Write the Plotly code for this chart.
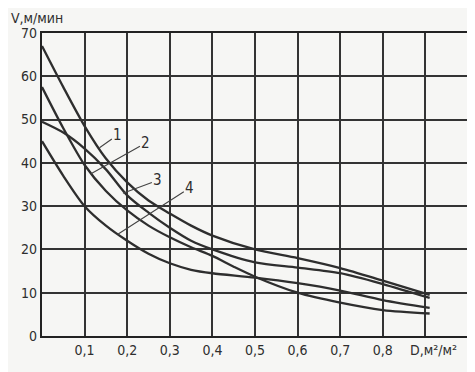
import plotly.graph_objects as go

# Data (D, m2/m2 vs V, m/min)
x1 = [0, 0.05, 0.1, 0.15, 0.2, 0.25, 0.3, 0.35, 0.4, 0.5, 0.6, 0.7, 0.8, 0.91]
v1 = [67, 57.5, 48.5, 41, 35.5, 31.3, 28.3, 25.5, 23.2, 20, 18, 15.7, 12.8, 9.5]

x2 = [0, 0.05, 0.1, 0.15, 0.2, 0.25, 0.3, 0.35, 0.4, 0.45, 0.5, 0.6, 0.7, 0.8, 0.91]
v2 = [57.5, 48, 39.5, 33.5, 29, 25.5, 22.8, 20.5, 18.5, 16, 13.7, 10, 7.7, 6, 5.2]

x3 = [0, 0.05, 0.1, 0.15, 0.2, 0.25, 0.3, 0.35, 0.4, 0.5, 0.6, 0.7, 0.8, 0.91]
v3 = [49.5, 47, 43.3, 38.5, 32.5, 28.5, 25, 22, 20, 17, 15.8, 14.5, 12, 8.8]

x4 = [0, 0.05, 0.1, 0.15, 0.2, 0.25, 0.3, 0.35, 0.4, 0.5, 0.6, 0.7, 0.8, 0.91]
v4 = [45, 37, 30, 25.5, 22, 19, 16.8, 15.3, 14.5, 13.5, 12.2, 10.5, 8.3, 6.5]

curve_labels = ["1", "2", "3", "4"]
label_points_x = [0.135, 0.115, 0.19, 0.178]
label_points_y = [43.5, 37.5, 33, 23.5]
label_text_x = [0.178, 0.244, 0.272, 0.347]
label_text_y = [46.5, 44.6, 36, 34.2]

x_tickvals = [0, 0.1, 0.2, 0.3, 0.4, 0.5, 0.6, 0.7, 0.8, 0.9, 1.0]
x_ticktext = ["", "0,1", "0,2", "0,3", "0,4", "0,5", "0,6", "0,7", "0,8", "", ""]
y_tickvals = [0, 10, 20, 30, 40, 50, 60, 70]

FONT = "DejaVu Sans Condensed, Liberation Sans Narrow, Arial Narrow, DejaVu Sans, sans-serif"
INK = "#2e2e2e"

fig = go.Figure()
for xs, vs in [(x1, v1), (x2, v2), (x3, v3), (x4, v4)]:
    fig.add_trace(go.Scatter(x=xs, y=vs, mode="lines",
                             line=dict(color=INK, width=2.3, shape="spline", smoothing=0.8),
                             showlegend=False, hoverinfo="skip"))

for lab, px, py, tx, ty in zip(curve_labels, label_points_x, label_points_y, label_text_x, label_text_y):
    fig.add_annotation(x=px, y=py, ax=tx, ay=ty, xref="x", yref="y", axref="x", ayref="y",
                       text=lab, showarrow=True, arrowhead=0, arrowwidth=1.1, arrowcolor="#444",
                       font=dict(family=FONT, size=15, color=INK), standoff=0)

fig.add_annotation(x=0.86, y=0, xref="x", yref="paper", xanchor="left", yanchor="top", yshift=-4,
                   text="D,м²/м²", showarrow=False, font=dict(family=FONT, size=14, color=INK))
fig.add_annotation(x=-0.077, y=1.048, xref="paper", yref="paper", xanchor="left", yanchor="middle",
                   text="V,м/мин", showarrow=False, font=dict(family=FONT, size=14, color=INK))

# the page body adds an 8px offset, so the figure is sized to fit the window
fig.update_layout(
    width=467, height=364,
    margin=dict(l=34, r=5, t=25, b=36),
    paper_bgcolor="#f6f6f4", plot_bgcolor="#f6f6f4",
    font=dict(family=FONT, size=14, color=INK),
)
fig.update_xaxes(range=[0, 1.0], tickvals=x_tickvals, ticktext=x_ticktext,
                 showgrid=True, gridcolor="#333", gridwidth=1.6,
                 showline=True, linecolor="#222", linewidth=2.2, mirror=True,
                 zeroline=False, ticks="", tickfont=dict(size=14))
fig.update_yaxes(range=[0, 70], tickvals=y_tickvals,
                 showgrid=True, gridcolor="#333", gridwidth=1.6,
                 showline=True, linecolor="#222", linewidth=2.2, mirror=True,
                 zeroline=False, ticks="", tickfont=dict(size=14))

fig.write_html("out.html")
